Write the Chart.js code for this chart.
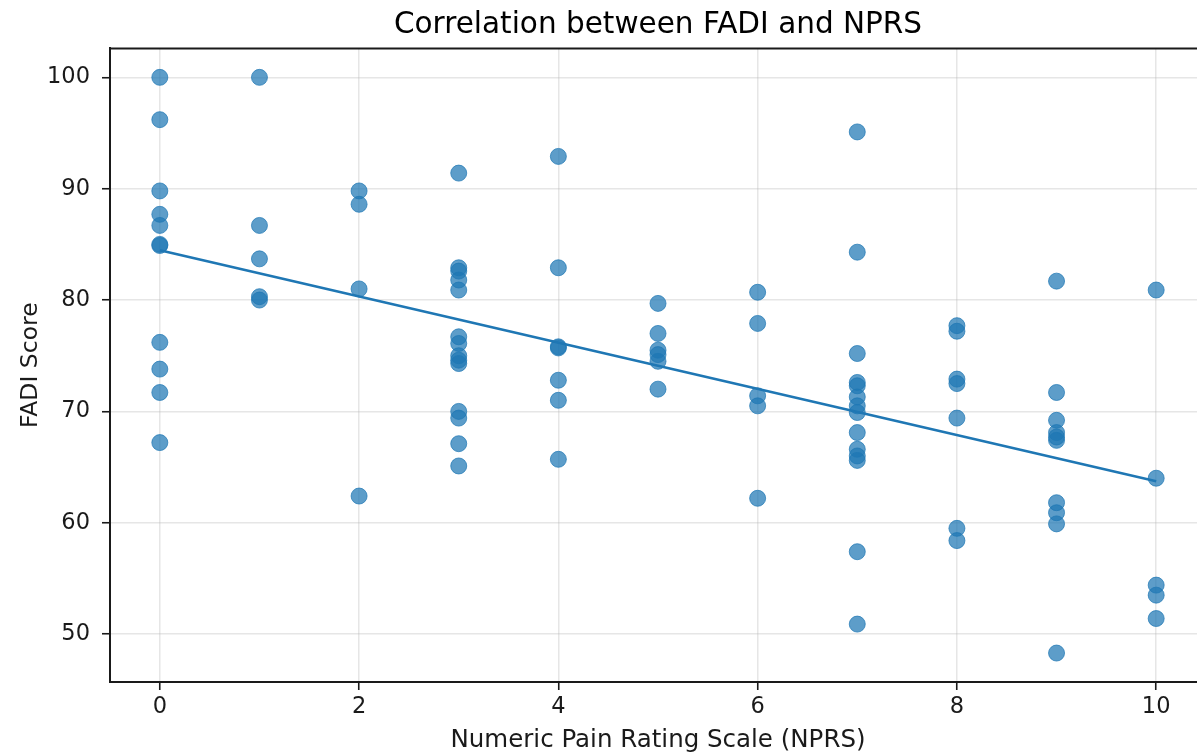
<!DOCTYPE html>
<html>
<head>
<meta charset="utf-8">
<title>Correlation between FADI and NPRS</title>
<script src="https://cdn.jsdelivr.net/npm/chart.js@4"></script>
<style>
  html, body { margin: 0; padding: 0; background: #fff; overflow: hidden; }
  #wrap { width: 1197px; height: 755px; overflow: hidden; }
</style>
</head>
<body>
<div id="wrap"><canvas id="fadiChart" width="1240" height="755"></canvas></div>
<script>
// NPRS value for each group of FADI scores
const nprsLevels = [0, 1, 2, 3, 4, 5, 6, 7, 8, 9, 10];
const fadiByNprs = [
    [100, 96.2, 89.8, 87.7, 86.7, 85.0, 84.9, 76.2, 73.8, 71.7, 67.2],
    [100, 86.7, 83.7, 80.3, 80.0],
    [89.8, 88.6, 81.0, 62.4],
    [91.4, 82.9, 82.6, 81.8, 80.9, 76.7, 76.1, 75.0, 74.6, 74.3, 70.0, 69.4, 67.1, 65.1],
    [92.9, 82.9, 75.8, 75.7, 72.8, 71.0, 65.7],
    [79.7, 77.0, 75.5, 75.1, 74.5, 72.0],
    [80.7, 77.9, 71.4, 70.5, 62.2],
    [95.1, 84.3, 75.2, 72.6, 72.3, 71.3, 70.5, 69.9, 68.1, 66.6, 66.0, 65.6, 57.4, 50.9],
    [77.7, 77.2, 72.9, 72.5, 69.4, 59.5, 58.4],
    [81.7, 71.7, 69.2, 68.1, 67.7, 67.4, 61.8, 60.9, 59.9, 48.3],
    [80.9, 64.0, 54.4, 53.5, 51.4]
];
const xTicks = [0, 2, 4, 6, 8, 10];
const yTicks = [50, 60, 70, 80, 90, 100];

document.addEventListener('DOMContentLoaded', () => {
    const points = [];
    nprsLevels.forEach((n, i) => fadiByNprs[i].forEach(v => points.push({ x: n, y: v })));

    // least squares fit for the trend line
    const cnt = points.length;
    const mx = points.reduce((s, p) => s + p.x, 0) / cnt;
    const my = points.reduce((s, p) => s + p.y, 0) / cnt;
    let sxy = 0, sxx = 0;
    points.forEach(p => { sxy += (p.x - mx) * (p.y - my); sxx += (p.x - mx) * (p.x - mx); });
    const slope = sxy / sxx;
    const icpt = my - slope * mx;
    const xMin = Math.min(...nprsLevels), xMax = Math.max(...nprsLevels);
    const fitLine = [{ x: xMin, y: icpt + slope * xMin }, { x: xMax, y: icpt + slope * xMax }];

    const font = 'DejaVu Sans';
    const spineColor = '#1a1a1a';
    const gridColor = 'rgba(176, 176, 176, 0.32)';

    // top spine + title centred over the axes (right side is cut off in the original)
    const framePlugin = {
        id: 'frame',
        afterLayout(chart) {
            if (chart.titleBlock) {
                chart.titleBlock.left = chart.chartArea.left;
                chart.titleBlock.right = chart.chartArea.right;
            }
        },
        afterDraw(chart) {
            const { ctx, chartArea: a } = chart;
            ctx.save();
            ctx.strokeStyle = spineColor;
            ctx.lineWidth = 2;
            ctx.beginPath();
            ctx.moveTo(a.left, a.top);
            ctx.lineTo(a.right, a.top);
            ctx.stroke();
            ctx.restore();
        }
    };

    new Chart(document.getElementById('fadiChart'), {
        type: 'scatter',
        data: {
            datasets: [
                {
                    type: 'line',
                    data: fitLine,
                    borderColor: '#1f77b4',
                    borderWidth: 2.6,
                    pointRadius: 0,
                    fill: false
                },
                {
                    data: points,
                    backgroundColor: 'rgba(31, 119, 180, 0.72)',
                    borderColor: 'rgba(31, 119, 180, 0.72)',
                    borderWidth: 1,
                    pointRadius: 8,
                    pointHoverRadius: 8
                }
            ]
        },
        options: {
            responsive: false,
            animation: false,
            layout: { padding: { left: 0, right: 34, top: 0, bottom: 0 } },
            plugins: {
                legend: { display: false },
                tooltip: { enabled: false },
                title: {
                    display: true,
                    text: 'Correlation between FADI and NPRS',
                    color: '#000',
                    font: { family: font, size: 29.5, weight: 'normal' },
                    padding: { top: 8, bottom: 5 }
                }
            },
            scales: {
                x: {
                    type: 'linear',
                    min: -0.5,
                    max: 10.5,
                    afterBuildTicks: s => { s.ticks = xTicks.map(v => ({ value: v })); },
                    afterFit: s => { s.height = 73; },
                    grid: { color: gridColor, lineWidth: 1.5, tickColor: spineColor, tickLength: 8, tickWidth: 1.6 },
                    border: { color: spineColor, width: 2 },
                    ticks: { color: '#1a1a1a', font: { family: font, size: 22.5 }, padding: 4, maxRotation: 0 },
                    title: {
                        display: true,
                        text: 'Numeric Pain Rating Scale (NPRS)',
                        color: '#1a1a1a',
                        font: { family: font, size: 24.5 },
                        padding: { top: 0, bottom: 0 }
                    }
                },
                y: {
                    type: 'linear',
                    min: 45.7,
                    max: 102.6,
                    afterBuildTicks: s => { s.ticks = yTicks.map(v => ({ value: v })); },
                    afterFit: s => { s.width = 110; },
                    grid: { color: gridColor, lineWidth: 1.5, tickColor: spineColor, tickLength: 8, tickWidth: 1.6 },
                    border: { color: spineColor, width: 2 },
                    ticks: { color: '#1a1a1a', font: { family: font, size: 22.5 }, padding: 12 },
                    title: {
                        display: true,
                        text: 'FADI Score',
                        color: '#1a1a1a',
                        font: { family: font, size: 23.5 },
                        padding: { top: 17, bottom: 0 }
                    }
                }
            }
        },
        plugins: [framePlugin]
    });
});
</script>
</body>
</html>
